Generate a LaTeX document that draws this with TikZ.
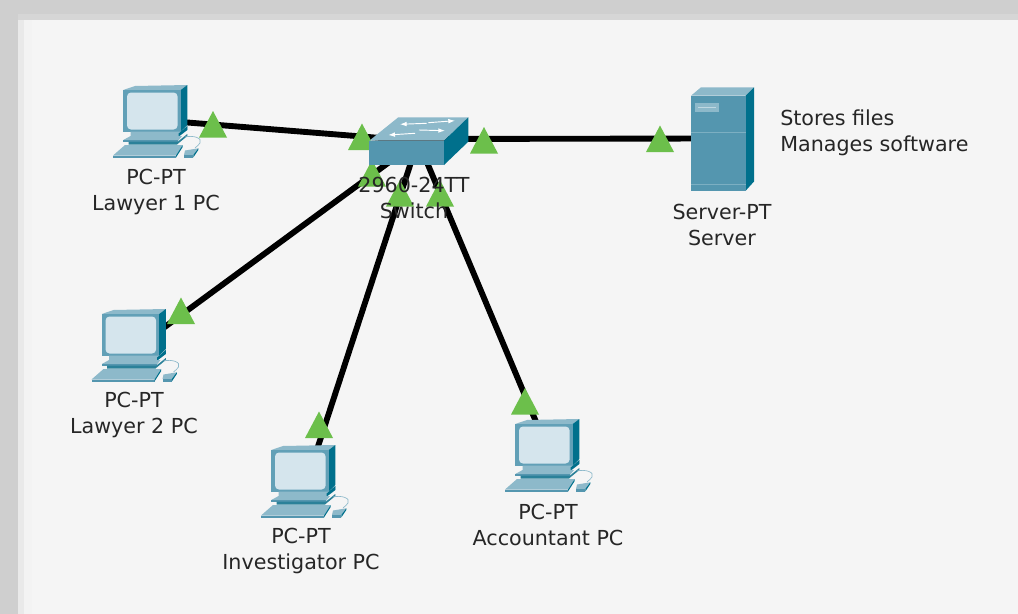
\documentclass[tikz,border=0pt]{standalone}
\usepackage{fontspec}
\usetikzlibrary{arrows.meta}
\setmainfont{DejaVu Sans}
\definecolor{cfront}{HTML}{5496AF}
\definecolor{cmon}{HTML}{62A0B7}
\definecolor{cside}{HTML}{00708C}
\definecolor{ctop}{HTML}{8DB9CA}
\definecolor{cscreen}{HTML}{D5E5ED}
\definecolor{cdark}{HTML}{2A8199}
\definecolor{cgreen}{HTML}{6CBF4B}
\definecolor{ctext}{HTML}{262626}
\tikzset{
  link/.style={line width=4.4pt,black},
  lab/.style={align=center,text=ctext,inner sep=0pt,font=\fontsize{15.5}{19.5}\selectfont},
  note/.style={align=left,anchor=west,text=ctext,inner sep=0pt,font=\fontsize{15.5}{19.5}\selectfont},
  tri/.pic={\fill[cgreen] (0,0) -- (-14,26.5) -- (14,26.5) -- cycle;},
  pcicon/.pic={
    % monitor
    \fill[ctop] (10.3,5) -- (22,1) -- (74.3,0) -- (67.7,5) -- cycle;
    \fill[cside] (67.7,5) -- (74.3,0) -- (74.3,40) -- (67.7,46.7) -- cycle;
    \fill[cmon] (10.3,5) rectangle (67.7,46.7);
    \fill[cscreen,rounded corners=3pt] (14,7.5) rectangle (64.6,44.5);
    % stand
    \fill[ctop] (17.6,46.7) -- (67.7,46.7) -- (74.3,41) -- (74.3,45) -- (65.7,51.5) -- (17.6,51.5) -- cycle;
    \fill[cside] (65.7,48.5) -- (74.3,41) -- (74.3,45) -- (65.7,51.5) -- cycle;
    \fill[ctop] (10.3,55) -- (17.6,51) -- (69,51) -- (65,56) -- cycle;
    \fill[cfront] (10.3,55) rectangle (65,57);
    \fill[cdark] (15.5,56.5) -- (65,56.5) -- (74.3,49) -- (74.3,51) -- (64,59.5) -- (15.5,59.5) -- cycle;
    % cable
    \draw[ctop,line width=0.5pt] (72,52) .. controls (80,50) and (90,53) .. (87,58) .. controls (86,60) and (84,61) .. (82,63);
    % keyboard
    \fill[ctop] (0,70.5) -- (12,60) -- (69.7,60) -- (63,70.5) -- cycle;
    \fill[cfront] (0,70.5) rectangle (63,72.5);
    \fill[cside] (63,70.5) -- (69.7,60) -- (69.7,62) -- (63,72.5) -- cycle;
    % mouse
    \fill[ctop] (71,70) -- (72,65.5) -- (85.3,63.3) -- (80.3,70) -- cycle;
    \fill[cfront] (71,70) rectangle (80.3,72.5);
    \fill[cside] (80.3,70) -- (85.3,63.3) -- (85.3,65) -- (80.3,72.5) -- cycle;
  }
}
\begin{document}
\begin{tikzpicture}[x=0.75pt,y=-0.75pt]
\useasboundingbox (0,0) rectangle (1018,614);
% canvas frame
\fill[color={rgb,255:red,207;green,207;blue,207}] (0,0) rectangle (1018,614);
\fill[color={rgb,255:red,214;green,214;blue,214}] (18,14) rectangle (1018,614);
\fill[color={rgb,255:red,233;green,233;blue,233}] (18,20) rectangle (1018,614);
\fill[color={rgb,255:red,243;green,243;blue,243}] (24,20) rectangle (1018,614);
\fill[color={rgb,255:red,245;green,245;blue,245}] (32,20) rectangle (1018,614);
% device anchors
\coordinate (lawyer1) at (150,119.5);
\coordinate (lawyer2) at (128,354);
\coordinate (investigator) at (307,480);
\coordinate (accountant) at (550,455);
\coordinate (switch) at (418,141);
\coordinate (server) at (720,138.5);
\coordinate (switchR) at (418,139);
% links
\draw[link] (lawyer1) -- (switch);
\draw[link] (lawyer2) -- (switch);
\draw[link] (investigator) -- (switch);
\draw[link] (accountant) -- (switch);
\draw[link] (switchR) -- (server);
% link lights
\pic at (213,111) {tri};
\pic at (362,123.5) {tri};
\pic at (484,127) {tri};
\pic at (372,160) {tri};
\pic at (400,180) {tri};
\pic at (440,180) {tri};
\pic at (660,125.5) {tri};
\pic at (181,297.5) {tri};
\pic at (319,411.5) {tri};
\pic at (525,388) {tri};
% switch
\fill[ctop] (369.3,140.7) -- (398.3,117.3) -- (468.3,117.3) -- (444,140.7) -- cycle;
\fill[cside] (444,140.7) -- (468.3,117.3) -- (468.3,141.7) -- (444,165) -- cycle;
\fill[cfront] (369.3,140.7) rectangle (444,165);
\begin{scope}[white,line width=0.7pt,-{Latex[length=5pt,width=3.5pt]}]
\draw (426.7,123.3) -- (400,124.3);
\draw (428.3,122.7) -- (455,120.7);
\draw (415,133.3) -- (388.3,135);
\draw (419,130) -- (445,130.7);
\end{scope}
% server
\fill[ctop] (691,95.7) -- (701,87.3) -- (754,87.3) -- (745.7,95.7) -- cycle;
\fill[cside] (745.7,95.7) -- (754,87.3) -- (754,181.5) -- (745.7,190.7) -- cycle;
\fill[cfront] (691,95.7) rectangle (745.7,190.7);
\fill[ctop] (695,102.7) rectangle (719.3,112.3);
\draw[color=cscreen!70!ctop,line width=0.3pt] (698,107.5) -- (716,107.5);
\draw[color=ctop!70!cfront,line width=0.4pt] (691,132.3) -- (745.7,132.3);
\draw[color=ctop!70!cfront,line width=0.4pt] (691,184) -- (745.7,184);
% PCs
\pic at (113,85) {pcicon};
\pic at (91.5,309) {pcicon};
\pic at (261,445) {pcicon};
\pic at (505,419) {pcicon};
% labels
\node[lab] (l1) at (156,191.5) {PC-PT\\Lawyer 1 PC};
\node[lab] (l2) at (134,415) {PC-PT\\Lawyer 2 PC};
\node[lab] (l3) at (301,550.5) {PC-PT\\Investigator PC};
\node[lab] (l4) at (548,525) {PC-PT\\Accountant PC};
\node[lab] (l5) at (722,224.5) {Server-PT\\Server};
\node[lab] (l6) at (414,198) {2960-24TT\\Switch};
\node[note] (n1) at (780,133) {Stores files\\Manages software};
\end{tikzpicture}
\end{document}
